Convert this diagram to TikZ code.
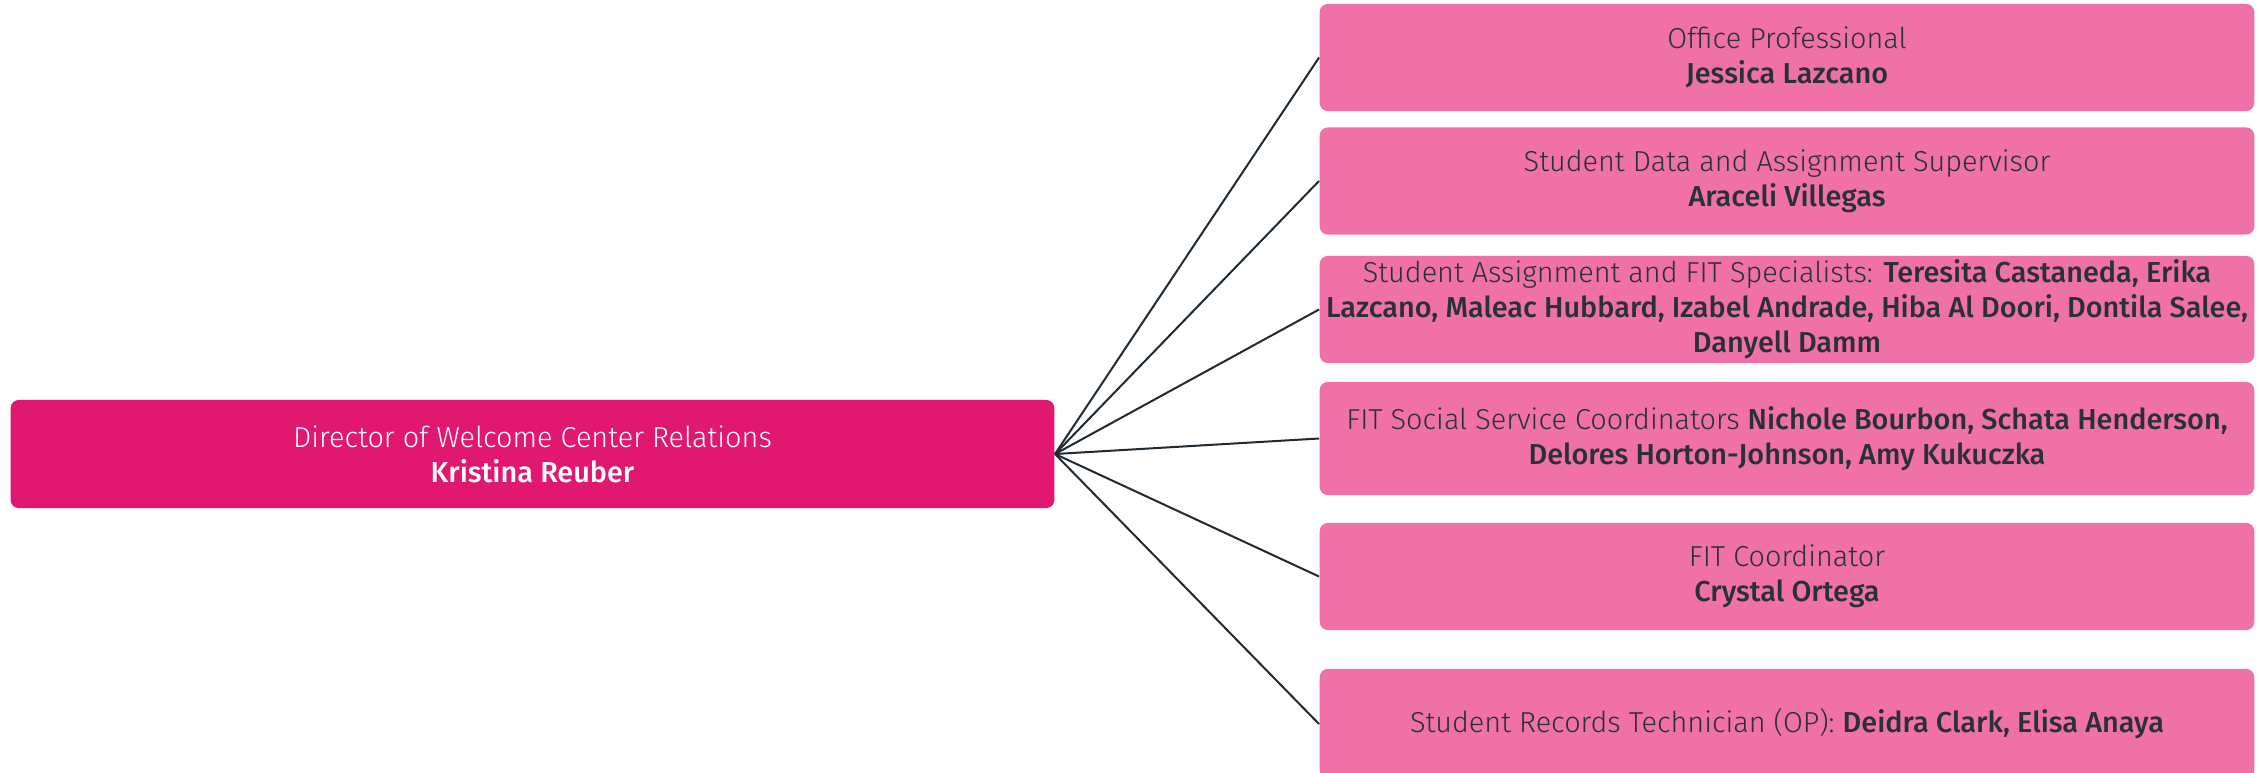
\documentclass[tikz,border=0pt]{standalone}
\usepackage{fontspec}
\setmainfont{Fira Sans}[UprightFont=* Light, BoldFont=* Medium]
\definecolor{dirpink}{HTML}{E0186F}
\definecolor{staffpink}{HTML}{F070A8}
\definecolor{inkdark}{HTML}{28303A}
\definecolor{wire}{HTML}{1F2A33}
\begin{document}
\begin{tikzpicture}[x=0.01cm, y=0.01cm,
		every node/.style={inner sep=0pt, align=center, rounded corners=0.08cm, font=\fontsize{8.2}{9.96}\selectfont},
		head/.style={fill=dirpink, text=white, minimum width=10.43cm, minimum height=1.08cm},
		staff/.style={fill=staffpink, text=inkdark, minimum width=9.34cm, minimum height=1.07cm},
		link/.style={draw=wire, line width=0.02cm}]
		\useasboundingbox (0,0) rectangle (2260,-772);
		\node[head] (dir) at (532.5,-454) {Director of Welcome Center Relations\\\textbf{Kristina Reuber}};
		\node[staff] (op) at (1787,-57.5) {Office Professional\\\textbf{Jessica Lazcano}};
		\node[staff] (sup) at (1787,-181) {Student Data and Assignment Supervisor\\\textbf{Araceli Villegas}};
		\node[staff] (spec) at (1787,-309.5) {Student Assignment and FIT Specialists: \textbf{Teresita Castaneda, Erika}\\\textbf{Lazcano, Maleac Hubbard, Izabel Andrade, Hiba Al Doori, Dontila Salee,}\\\textbf{Danyell Damm}};
		\node[staff, minimum height=1.13cm] (soc) at (1787,-438.5) {FIT Social Service Coordinators \textbf{Nichole Bourbon, Schata Henderson,}\\\textbf{Delores Horton-Johnson, Amy Kukuczka}};
		\node[staff] (coord) at (1787,-576.5) {FIT Coordinator\\\textbf{Crystal Ortega}};
		\node[staff, minimum height=1.1cm] (rec) at (1787,-724) {Student Records Technician (OP): \textbf{Deidra Clark, Elisa Anaya}};
		\foreach \s in {op,sup,spec,soc,coord,rec}
			\draw[link] (dir.east) -- (\s.west);
	\end{tikzpicture}
\end{document}
